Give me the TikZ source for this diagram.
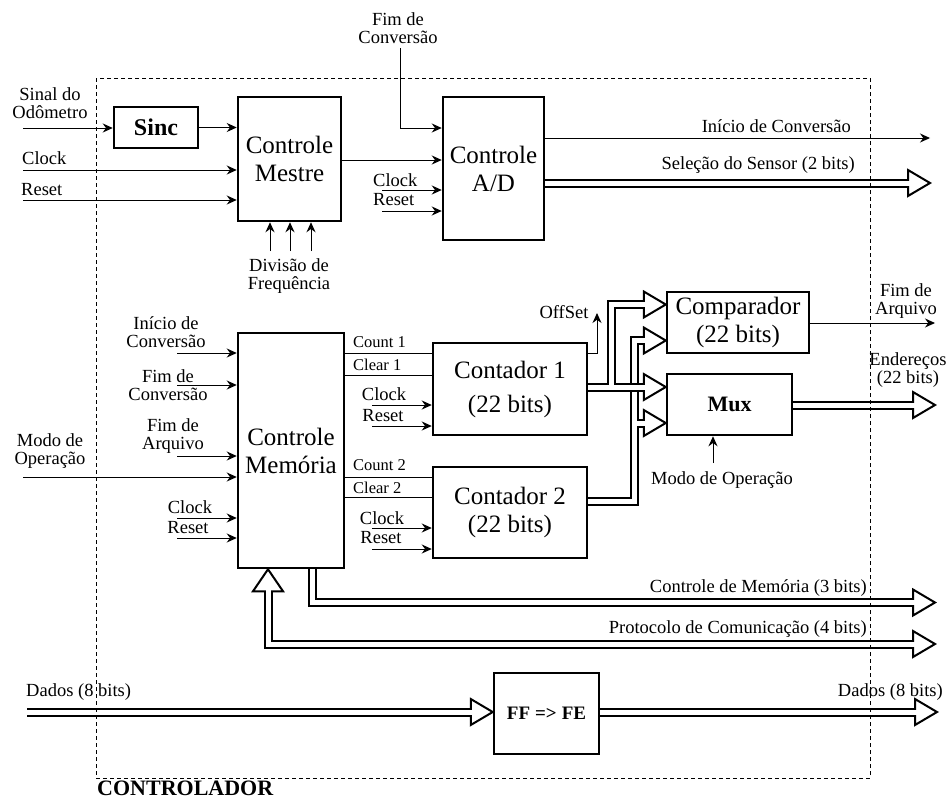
\documentclass[tikz,border=0pt]{standalone}
\usepackage{fontspec}
\setmainfont{Liberation Serif}
\usetikzlibrary{arrows.meta,positioning}

\newcommand\fbloco{\fontsize{25}{28}\selectfont}
\newcommand\frotulo{\fontsize{18.5}{18}\selectfont}
\newcommand\fpeq{\fontsize{16.5}{17}\selectfont}

% cabecas das barras (triangulo aberto)
\newcommand\cabR[1]{\draw[line width=2pt,fill=white,line join=miter] (#1) -- ++(-22,-13) -- ++(0,26) -- cycle;}
\newcommand\cabU[1]{\draw[line width=2pt,fill=white,line join=miter] (#1) -- ++(-15,22) -- ++(30,0) -- cycle;}

\tikzset{
  bloco/.style={draw, line width=2.5pt, inner sep=0pt, align=center, font=\fbloco},
  rotulo/.style={inner sep=0pt, align=center, font=\frotulo},
  peq/.style={inner sep=0pt, font=\fpeq},
  sinal/.style={line width=1pt, -{Stealth[length=10pt,width=9pt]}},
  fio/.style={line width=1pt},
  barrak/.style={line width=9pt},
  barraw/.style={line width=5pt, white},
  limite/.style={line width=1pt, dash pattern=on 4pt off 3pt}
}

\begin{document}
\begin{tikzpicture}[x=1pt,y=-1pt]
\useasboundingbox (0,0) rectangle (949,803);

%--------------------
% blocos
%--------------------
\node[bloco,font=\bfseries\fontsize{24}{26}\selectfont,
  minimum width=84pt,minimum height=41pt] (sinc) at (156,127.5) {Sinc};
\node[bloco,minimum width=103pt,minimum height=124pt] (mestre) at (289.5,159) {Controle\\Mestre};
\node[bloco,minimum width=101pt,minimum height=143pt] (ad) at (493.5,168.5) {Controle\\A/D};
\node[bloco,minimum width=106pt,minimum height=235pt] (mem) at (291,450.5) {Controle\\Memória};
\node[bloco,minimum width=154pt,minimum height=92pt] (cnt1) at (510,389) {Contador 1\\[6pt](22 bits)};
\node[bloco,minimum width=154pt,minimum height=91pt] (cnt2) at (510,512.5) {Contador 2\\(22 bits)};
\node[bloco,minimum width=142pt,minimum height=61pt] (comp) at (738,322.5) {Comparador\\(22 bits)};
\node[bloco,font=\bfseries\fontsize{22}{24}\selectfont,
  minimum width=125pt,minimum height=61pt] (mux) at (729.5,404.5) {Mux};
\node[bloco,font=\bfseries\fontsize{19}{21}\selectfont,
  minimum width=105pt,minimum height=81pt] (ff) at (546.5,713.5) {FF\hspace{5pt}=>\hspace{5pt}FE};

%--------------------
% rotulos
%--------------------
\node[rotulo] (lodo) at (50,103) {Sinal do\\Odômetro};
\node[rotulo,anchor=west] (lclk0) at (22,158) {Clock};
\node[rotulo,anchor=west] (lrst0) at (21,190) {Reset};
\node[rotulo] (lfimc0) at (398,28) {Fim de\\Conversão};
\node[rotulo,anchor=west] (lclka) at (373,180) {Clock};
\node[rotulo,anchor=west] (lrsta) at (373,200) {Reset};
\node[rotulo] (ldiv) at (289,276) {Divisão de\\Frequência};
\node[rotulo,anchor=east] (linic) at (851,126) {Início de Conversão};
\node[rotulo,anchor=east] (lsel) at (855,165) {Seleção do Sensor (2 bits)};

\node[rotulo] (linim) at (166,332) {Início de\\Conversão};
\node[rotulo] (lfimm) at (168,385) {Fim de\\Conversão};
\node[rotulo] (larqm) at (173,436) {Fim de\\Arquivo};
\node[rotulo] (lmodo) at (50,451) {Modo de\\Operação};
\node[rotulo] (lclkm) at (190,507) {Clock};
\node[rotulo] (lrstm) at (188,528) {Reset};

\node[peq,anchor=west] (lcount1) at (353,342) {Count 1};
\node[peq,anchor=west] (lclear1) at (353,365) {Clear 1};
\node[rotulo] (lclk1) at (384,394) {Clock};
\node[rotulo] (lrst1) at (383,416) {Reset};
\node[peq,anchor=west] (lcount2) at (353,465) {Count 2};
\node[peq,anchor=west] (lclear2) at (353,488) {Clear 2};
\node[rotulo] (lclk2) at (382,518) {Clock};
\node[rotulo] (lrst2) at (381,538) {Reset};

\node[rotulo] (loff) at (564,312) {OffSet};
\node[rotulo] (larq) at (906,301) {Fim de\\Arquivo};
\node[rotulo] (lend) at (908,370) {Endereços\\(22 bits)};
\node[rotulo] (lmodomux) at (722,480) {Modo de Operação};
\node[rotulo,anchor=east] (lcmem) at (867,588) {Controle de Memória (3 bits)};
\node[rotulo,anchor=east] (lprot) at (867,629) {Protocolo de Comunicação (4 bits)};
\node[rotulo,anchor=west] (ldin) at (26,692) {Dados (8 bits)};
\node[rotulo,anchor=east] (ldout) at (943,692) {Dados (8 bits)};
\node[anchor=west,inner sep=0pt,font=\bfseries\fontsize{22}{24}\selectfont] (lctrl) at (97,788) {CONTROLADOR};

%--------------------
% sinais simples
%--------------------
\coordinate (odo) at (23,128);
\coordinate (clk0) at (23,170);
\coordinate (rst0) at (23,200);
\draw[sinal] (odo) -- (sinc.west |- odo);
\draw[sinal] (sinc.east) -- (mestre.west |- sinc.east);
\draw[sinal] (clk0) -- (mestre.west |- clk0);
\draw[sinal] (rst0) -- (mestre.west |- rst0);

\coordinate (fimc) at (400,48);
\draw[sinal] (fimc) |- (ad.west |- 0,128);
\draw[sinal] (mestre.east |- 0,160) -- (ad.west |- 0,160);
\coordinate (clka) at (382,190);
\coordinate (rsta) at (382,211);
\draw[sinal] (clka) -- (ad.west |- clka);
\draw[sinal] (rsta) -- (ad.west |- rsta);

\foreach \x in {270,290,311} {
  \coordinate (div\x) at (\x,251);
  \draw[sinal] (div\x) -- (mestre.south -| div\x);
}

\coordinate (inic) at (930,138);
\draw[sinal] (ad.east |- inic) -- (inic);

% entradas da memoria
\foreach \y in {353,385,456,518,538} {
  \coordinate (em\y) at (177,\y);
  \draw[sinal] (em\y) -- (mem.west |- em\y);
}
\coordinate (modo) at (23,477);
\draw[sinal] (modo) -- (mem.west |- modo);

% memoria -> contadores
\foreach \y in {353,375,477,497}
  \draw[fio] (mem.east |- 0,\y) -- (cnt1.west |- 0,\y);

\foreach \y in {405,426,528,549} {
  \coordinate (ec\y) at (372,\y);
  \draw[sinal] (ec\y) -- (cnt1.west |- ec\y);
}

\coordinate (off) at (597,313);
\draw[sinal] (cnt1.east |- 0,353) -| (off);

\coordinate (arq) at (935,323);
\draw[sinal] (comp.east |- arq) -- (arq);

\coordinate (modomux) at (713,463);
\draw[sinal] (modomux) -- (mux.south -| modomux);

%--------------------
% barramentos
%--------------------
\coordinate (selT) at (930,183);
\cabR{selT}
\draw[barrak] (ad.east |- selT) -- ([xshift=-22pt]selT);
\draw[barraw] (ad.east |- selT) -- ([xshift=-20pt]selT);

\coordinate (endT) at (935,405);
\cabR{endT}
\draw[barrak] (mux.east |- endT) -- ([xshift=-22pt]endT);
\draw[barraw] (mux.east |- endT) -- ([xshift=-20pt]endT);

% contador 2 -> comparador / mux
\coordinate (cp2T) at (comp.west |- 0,340.5);
\coordinate (mx2T) at (mux.west |- 0,423);
\cabR{cp2T}
\cabR{mx2T}
\draw[barrak] (cnt2.east |- 0,501) -| (634,340.5) -- ([xshift=-22pt]cp2T);
\draw[barrak] (634,423) -- ([xshift=-22pt]mx2T);
\draw[barraw] (cnt2.east |- 0,501) -| (634,340.5) -- ([xshift=-20pt]cp2T);
\draw[barraw] (634,423) -- ([xshift=-20pt]mx2T);

% contador 1 -> comparador / mux
\coordinate (cp1T) at (comp.west |- 0,304.5);
\coordinate (mx1T) at (mux.west |- 0,387);
\cabR{cp1T}
\cabR{mx1T}
\draw[barrak] (cnt1.east |- mx1T) -| (611.5,304.5) -- ([xshift=-22pt]cp1T);
\draw[barrak] (cnt1.east |- mx1T) -- ([xshift=-22pt]mx1T);
\draw[barraw] (cnt1.east |- mx1T) -| (611.5,304.5) -- ([xshift=-20pt]cp1T);
\draw[barraw] (cnt1.east |- mx1T) -- ([xshift=-20pt]mx1T);

% controle de memoria
\coordinate (cmT) at (935,602.5);
\cabR{cmT}
\draw[barrak] (mem.south -| 312,0) |- ([xshift=-22pt]cmT);
\draw[barraw] (mem.south -| 312,0) |- ([xshift=-20pt]cmT);

% protocolo de comunicacao
\coordinate (prT) at (935,644);
\coordinate (prU) at (mem.south -| 268,0);
\cabR{prT}
\cabU{prU}
\draw[barrak] ([yshift=-22pt]prU) |- ([xshift=-22pt]prT);
\draw[barraw] ([yshift=-20pt]prU) |- ([xshift=-20pt]prT);

% dados
\coordinate (din) at (27,712);
\coordinate (dinT) at (ff.west |- din);
\coordinate (doutT) at (937,712);
\cabR{dinT}
\cabR{doutT}
\draw[barrak] (din) -- ([xshift=-22pt]dinT);
\draw[barraw] (din) -- ([xshift=-20pt]dinT);
\draw[barrak] (ff.east |- doutT) -- ([xshift=-22pt]doutT);
\draw[barraw] (ff.east |- doutT) -- ([xshift=-20pt]doutT);

%--------------------
% limite do controlador
%--------------------
\draw[limite] (96,78) rectangle (870,778);

\end{tikzpicture}
\end{document}
